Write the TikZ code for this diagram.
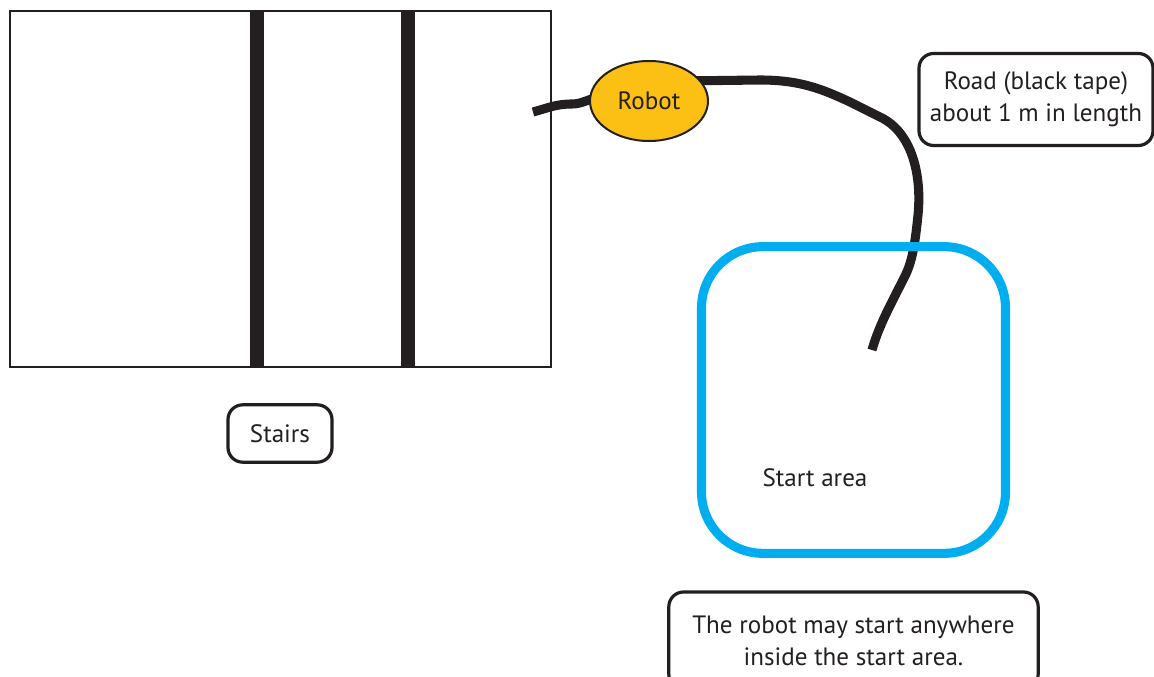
\documentclass[tikz,border=0pt]{standalone}
\usepackage{fontspec}
\setmainfont{PT Sans}
\usetikzlibrary{shapes.geometric,backgrounds}
\definecolor{tapeblack}{RGB}{35,31,32}
\definecolor{robotyellow}{RGB}{252,192,20}
\definecolor{startblue}{RGB}{0,174,239}

\begin{document}
\begin{tikzpicture}[x=0.75pt,y=0.75pt,yscale=-1,xscale=1,
    labelbox/.style={draw=tapeblack,line width=2.4pt,rounded corners=11pt,align=center,inner sep=0pt},
    tape/.style={draw=tapeblack,line width=6.8pt},
    every node/.style={font=\fontsize{18.8}{24}\selectfont,text=tapeblack}]
%set diagram to the size of the reference
\clip (0,0) rectangle (1154,677);

%Shape: Rectangle [stairs]
\draw [color=tapeblack,line width=1.5pt] (10,11) rectangle (551,367);
\fill [tapeblack] (250,11) rectangle (264,367);
\fill [tapeblack] (401,11) rectangle (415,367);

%Shape: Rounded Rect [start area]
\node (start) at (853.5,400) [draw=startblue,line width=6.8pt,rounded corners=46pt,minimum width=228pt,minimum height=230pt] {};

% Robot
\node (robot) at (649,101) [ellipse,draw=tapeblack,fill=robotyellow,line width=1.5pt,minimum width=88.5pt,minimum height=60pt,inner sep=0pt] {Robot};

\coordinate (tapeL) at (533,112);
\coordinate (tapeR) at (872,350);

%Curve Lines [road, under the robot]
\begin{scope}[on background layer]
\draw [tape] (tapeL) .. controls (548,108) and (556,104) .. (572,104) .. controls (582,104) and (588,99) .. (600,97) -- (robot.center);
\draw [tape] (robot.center) -- (680,81) -- (760,80) .. controls (800,80) and (822,89) .. (850,102) -- (880,117) .. controls (912,132) and (922,175) .. (918,215) .. controls (915,245) and (912,262) .. (905,276) .. controls (892,302) and (879,325) .. (tapeR);
\end{scope}

% Text Node
\node (stairs) at (280,433.5) [labelbox,minimum width=78pt,minimum height=43pt] {Stairs};
% Text Node
\node (road) at (1036,99.5) [labelbox,minimum width=175.5pt,minimum height=69pt] {Road (black tape)\\about 1 m in length};
% Text Node
\node (startlbl) at (815,478) {Start area};
% Text Node
\node (note) at (853.5,640.5) [labelbox,minimum width=277pt,minimum height=72.75pt] {The robot may start anywhere\\inside the start area.};
\end{tikzpicture}
\end{document}
